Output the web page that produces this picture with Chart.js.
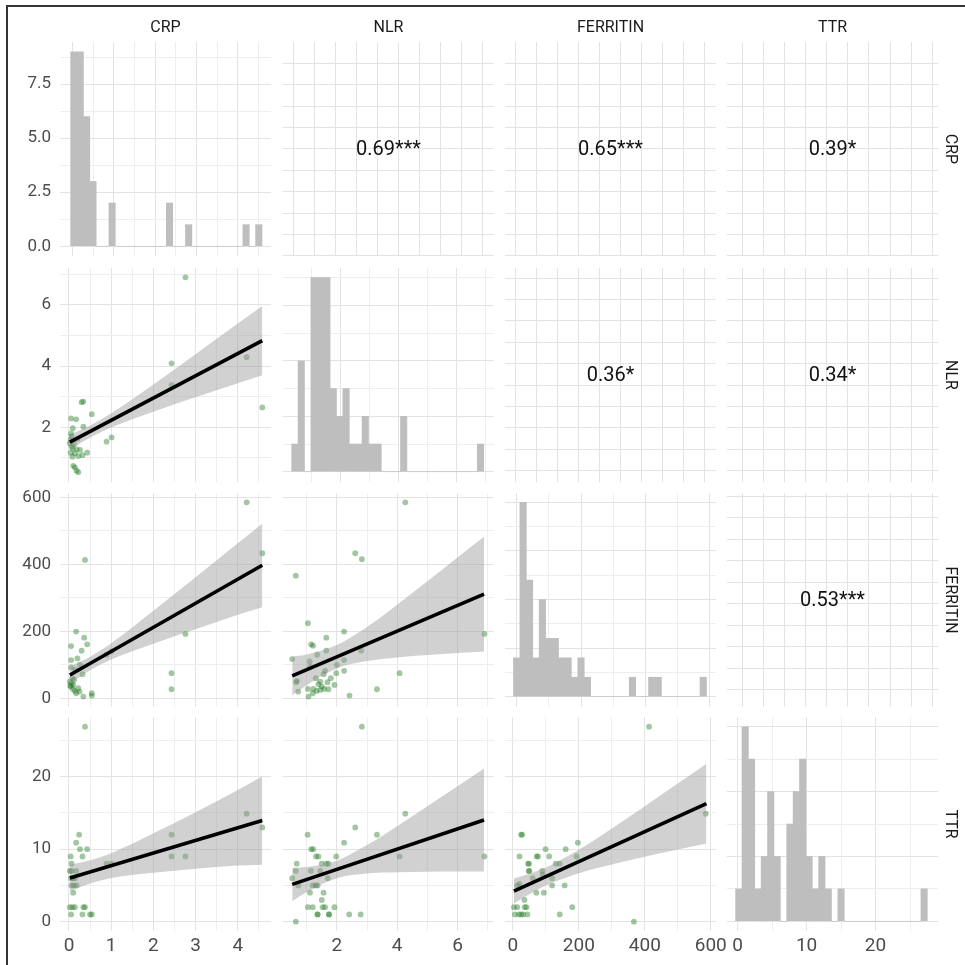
<!DOCTYPE html>
<html>
<head>
<meta charset="utf-8">
<script src="https://cdn.jsdelivr.net/npm/chart.js@4.4.1/dist/chart.umd.min.js"></script>
<style>
  html, body { margin: 0; padding: 0; background: #fff; }
  #page { position: relative; width: 965px; height: 965px; overflow: hidden; background: #fff; font-family: Roboto, 'Liberation Sans', sans-serif; }
  #page canvas { position: absolute; }
  .frame { position: absolute; left: 6px; top: 5px; width: 1200px; height: 1200px; border-left: 2px solid #333; border-top: 2px solid #333; }
  .strip { position: absolute; color: #1a1a1a; font-size: 16px; line-height: 1; white-space: nowrap; }
</style>
</head>
<body>
<div id="page"><div class="frame"></div></div>
<script>
// ---------- variables ----------
const variables = ['CRP', 'NLR', 'FERRITIN', 'TTR'];

// ---------- tick labels ----------
const crpTicks = [0, 1, 2, 3, 4];
const nlrTicks = [2, 4, 6];
const ferTicks = [0, 200, 400, 600];
const ttrTicks = [0, 10, 20];
const crpCountTicks = [0, 2.5, 5, 7.5];

// ---------- histograms (first bin edge, bin width, counts) ----------
const crpBinStart = -0.0485, crpBinWidth = 0.1546;
const crpCounts = [9,9,6,3,0,0,2,0,0,0,0,0,0,0,0,2,0,0,1,0,0,0,0,0,0,0,0,1,0,1];
const nlrBinStart = 0.312, nlrBinWidth = 0.2203;
const nlrCounts = [1,4,0,7,7,7,3,2,3,1,1,2,1,1,0,0,0,2,0,0,0,0,0,0,0,0,0,0,0,1];
const ferBinStart = -10, ferBinWidth = 20;
const ferCounts = [2,10,6,2,5,3,3,2,2,1,2,1,0,0,0,0,0,0,1,0,0,1,1,0,0,0,0,0,0,1];
const ttrBinStart = -0.3, ttrBinWidth = 0.927;
const ttrCounts = [1,6,5,1,2,4,2,0,3,4,5,2,1,2,1,0,1,0,0,0,0,0,0,0,0,0,0,0,0,1];

// ---------- scatter points ----------
const crpNlr_crp = [2.76,2.43,2.43,4.21,4.58,0.34,0.30,0.54,0.05,0.17,0.34,0.09,0.89,1.01,0.05,0.06,0.04,0.02,0.06,0.09,0.18,0.26,0.04,0.14,0.22,0.32,0.43,0.08,0.10,0.14,0.18,0.22,0.12,0.20];
const crpNlr_nlr = [6.90,4.09,3.38,4.29,2.65,2.84,2.82,2.43,2.29,2.26,2.02,1.97,1.53,1.67,1.80,1.70,1.59,1.48,1.37,1.31,1.28,1.26,1.17,1.15,1.06,1.09,1.17,1.04,0.74,0.69,0.58,0.53,1.45,1.62];

const crpFer_crp = [4.21,4.58,0.38,2.76,2.43,2.43,0.17,0.05,0.36,0.43,0.30,0.20,0.05,0.26,0.05,0.32,0.02,0.06,0.10,0.04,0.09,0.14,0.22,0.17,0.34,0.54,0.54,0.89,1.01,0.08,0.12,0.03,0.25,0.15];
const crpFer_fer = [585,433,413,192,75,27,199,156,181,161,142,119,114,100,92,72,50,45,40,35,28,22,30,15,5,15,8,130,140,60,55,38,20,85];

const crpTtr_crp = [0.38,4.21,4.58,2.43,2.43,2.76,0.24,0.17,0.26,0.43,0.32,0.04,0.06,0.02,0.06,0.17,0.89,1.01,0.05,0.10,0.06,0.12,0.18,0.10,0.02,0.08,0.14,0.34,0.38,0.05,0.32,0.50,0.54,0.14];
const crpTtr_ttr = [26.9,14.9,13.0,12.0,9.0,9.0,12.0,10.9,10.0,10.0,9.0,9.0,8.0,7.0,7.0,7.0,8.0,8.0,6.0,6.0,5.0,5.0,5.0,4.0,2.0,2.0,2.0,2.0,2.0,1.0,1.0,1.0,1.0,6.0];

const nlrFer_nlr = [4.27,2.61,2.83,0.64,1.04,2.24,1.65,1.15,1.21,1.65,2.81,0.52,2.24,1.11,1.61,2.24,1.56,1.98,4.08,0.65,1.45,1.39,1.69,1.92,1.04,1.22,1.33,1.45,1.58,1.72,0.72,1.20,1.06,2.42,3.33,6.89,1.30,1.50,1.80,0.68,1.10,1.35,2.00];
const nlrFer_fer = [585,433,415,366,224,199,181,161,157,142,142,117,114,94,82,82,72,75,75,48,50,42,48,40,28,28,22,25,28,27,20,15,5,8,27,192,60,35,60,52,110,130,100];

const nlrTtr_nlr = [2.83,4.27,2.61,3.33,1.03,2.24,1.15,1.22,1.31,1.39,1.98,4.08,6.89,0.67,1.50,1.65,1.72,0.64,1.14,1.45,0.52,0.72,1.20,1.36,1.11,1.56,1.04,1.20,1.53,1.61,1.92,1.36,1.74,2.41,2.79,0.64,1.36,1.74,1.50,1.30,1.70];
const nlrTtr_ttr = [26.9,14.9,13.0,12.0,12.0,10.9,10.0,10.0,9.0,9.0,9.0,9.0,9.0,8.0,8.0,8.0,8.0,7.0,7.0,7.0,6.0,5.0,5.0,5.0,4.0,4.0,2.0,2.0,2.0,2.0,2.0,1.0,1.0,1.0,1.0,0.0,1.0,1.0,3.0,5.0,6.0];

const ferTtr_fer = [413,585,25,28,197,99,160,20,72,76,193,46,49,142,50,48,89,119,13,20,71,94,119,157,35,3,13,36,41,180,6,18,31,44,142,367,60,110,130,25,90];
const ferTtr_ttr = [26.9,14.9,12,12,10.9,10,10,9,9,9,9,8,8,8,7,7,7,6,5,5.2,4,4,5,5,3,2,2,2,2,2,1,1,1,1,1,0,6,9,8,1,6.5];

// ---------- linear fits with 95% confidence band ----------
const crpGridX   = [0.02, 0.5, 1, 2, 3, 4, 4.58];
const crpNlr_fit = [1.515, 1.864, 2.228, 2.956, 3.684, 4.412, 4.834];
const crpNlr_lo  = [1.27, 1.66, 1.99, 2.51, 2.98, 3.44, 3.70];
const crpNlr_hi  = [1.76, 2.06, 2.46, 3.40, 4.39, 5.39, 5.96];
const crpFer_fit = [69.4, 104, 140, 212, 284, 356, 397];
const crpFer_lo  = [43.7, 84, 116, 163, 206, 249, 272];
const crpFer_hi  = [95.1, 124, 164, 261, 361, 463, 522];
const crpTtr_fit = [6.03, 6.87, 7.74, 9.47, 11.21, 12.95, 13.96];
const crpTtr_lo  = [4.21, 5.26, 6.03, 6.75, 7.31, 7.74, 7.86];
const crpTtr_hi  = [7.85, 8.48, 9.45, 12.19, 15.11, 18.16, 20.06];

const nlrGridX   = [0.52, 1, 2, 3, 4, 5, 6, 6.88];
const nlrFer_fit = [67, 85.4, 123.8, 162.2, 200.6, 239, 277.4, 311.2];
const nlrFer_lo  = [9, 39, 89, 111, 122, 129, 135, 140];
const nlrFer_hi  = [125, 131, 159, 213, 279, 349, 420, 482];
const nlrTtr_fit = [5.15, 5.82, 7.21, 8.61, 10.0, 11.4, 12.8, 14.02];
const nlrTtr_lo  = [2.85, 4.08, 6.0, 6.65, 6.82, 6.89, 6.93, 6.92];
const nlrTtr_hi  = [7.45, 7.56, 8.42, 10.57, 13.18, 15.91, 18.67, 21.12];

const ferGridX   = [3, 50, 100, 200, 300, 400, 500, 587];
const ferTtr_fit = [4.23, 5.20, 6.23, 8.30, 10.37, 12.44, 14.5, 16.3];
const ferTtr_lo  = [2.5, 3.78, 4.98, 6.69, 7.89, 8.95, 9.95, 10.8];
const ferTtr_hi  = [5.96, 6.62, 7.48, 9.91, 12.85, 15.93, 19.05, 21.8];

// ---------- correlations (upper triangle) ----------
const corrLabels = ['0.69***', '0.65***', '0.39*', '0.36*', '0.34*', '0.53***'];

// ---------- layout & style ----------
const FONT = "Roboto, 'Liberation Sans', sans-serif";
const MAJOR = '#e3e3e3', MINOR = '#eeeeee';
const colLeft = [60, 283, 505, 727], colW = 211;
const rowTop = [42, 268, 493, 717], rowH = 214;
const M = 50;          // canvas margin around each panel
const LEFT_BOX = 45;   // room for y tick labels
const BOTTOM_BOX = 34; // room for x tick labels

const varRange = [[-0.213, 4.787], [0.215, 7.21], [-24, 616], [-1.28, 28.23]];
const varYRange = [null, [0.212, 7.206], [-26, 612.8], [-1.28, 28.23]];
const diagXRange = [[-0.307, 4.808], [0.013, 7.276], [-36.3, 619.7], [-1.548, 29.06]];
const diagYRange = [[-0.45, 9.45], [-0.37, 7.35], [-0.53, 10.48], [-0.3, 6.3]];
const varMajor = [1, 2, 200, 10];
const countMajor = [2.5, 2, 2.5, 2];
// grid of the correlation panels: offset of first line and spacing (px)
const upperColGrid = [null, [10, 21.1], [10, 21.1], [15.3, 21.1]];
const upperRowGrid = [[21.3, 21.4], [10, 21.4], [3, 21.5], null];

const BAR = 'rgb(190,190,190)';
const POINT = 'rgba(30,120,30,0.42)';
const BAND = 'rgba(153,153,153,0.45)';

Chart.defaults.font.family = FONT;
Chart.defaults.animation = false;

const histData = [
  [crpBinStart, crpBinWidth, crpCounts],
  [nlrBinStart, nlrBinWidth, nlrCounts],
  [ferBinStart, ferBinWidth, ferCounts],
  [ttrBinStart, ttrBinWidth, ttrCounts]
];
const tickLabels = [crpTicks, nlrTicks, ferTicks, ttrTicks];

// scatter panels keyed by "row,col"
const scatterData = {
  '1,0': [crpNlr_crp, crpNlr_nlr, crpGridX, crpNlr_fit, crpNlr_lo, crpNlr_hi],
  '2,0': [crpFer_crp, crpFer_fer, crpGridX, crpFer_fit, crpFer_lo, crpFer_hi],
  '3,0': [crpTtr_crp, crpTtr_ttr, crpGridX, crpTtr_fit, crpTtr_lo, crpTtr_hi],
  '2,1': [nlrFer_nlr, nlrFer_fer, nlrGridX, nlrFer_fit, nlrFer_lo, nlrFer_hi],
  '3,1': [nlrTtr_nlr, nlrTtr_ttr, nlrGridX, nlrTtr_fit, nlrTtr_lo, nlrTtr_hi],
  '3,2': [ferTtr_fer, ferTtr_ttr, ferGridX, ferTtr_fit, ferTtr_lo, ferTtr_hi]
};
const upperOrder = ['0,1', '0,2', '0,3', '1,2', '1,3', '2,3'];

// ---------- helpers ----------
function gridValues(min, max, major) {
  const half = major / 2, out = [];
  for (let k = Math.ceil(min / half); k * half <= max; k++) out.push(+(k * half).toFixed(6));
  return out;
}
function majorTest(major) {
  return v => Math.abs(v / major - Math.round(v / major)) < 1e-6;
}
function makeAxis(min, max, values, isMajor, label, reverse) {
  return {
    type: 'linear', min, max, reverse: !!reverse, offset: false,
    afterBuildTicks(s) { s.ticks = values.map(v => ({ value: v })); },
    afterFit(s) {
      if (s.isHorizontal()) s.height = label ? BOTTOM_BOX : 0;
      else s.width = label ? LEFT_BOX : 0;
      s.paddingLeft = s.paddingRight = s.paddingTop = s.paddingBottom = 0;
    },
    grid: { drawTicks: false, lineWidth: 1, offset: false,
            color: c => (c.tick && isMajor(c.tick.value)) ? MAJOR : MINOR },
    border: { display: false },
    ticks: label ? {
      display: true, autoSkip: false, maxRotation: 0, minRotation: 0,
      padding: label.pad, color: '#4d4d4d', font: { size: label.size, family: FONT },
      callback: v => {
        const hit = label.values.find(t => Math.abs(t - v) < 1e-9);
        return hit === undefined ? '' : label.fmt(hit);
      }
    } : { display: false }
  };
}
const leftLabel = (values, fmt) => ({ values, fmt: fmt || (v => String(v)), size: 17, pad: 9 });
const bottomLabel = (values) => ({ values, fmt: v => String(v), size: 19, pad: 4 });

const page = document.getElementById('page');
function addCanvas(r, c) {
  const cv = document.createElement('canvas');
  cv.width = colW + 2 * M; cv.height = rowH + 2 * M;
  cv.style.left = (colLeft[c] - M) + 'px';
  cv.style.top = (rowTop[r] - M) + 'px';
  cv.style.width = cv.width + 'px'; cv.style.height = cv.height + 'px';
  page.appendChild(cv);
  return cv;
}
function baseOptions(scales, hasY, hasX, extraPlugins) {
  return {
    responsive: false, devicePixelRatio: 1, events: [],
    layout: { padding: { left: M - (hasY ? LEFT_BOX : 0), right: M, top: M, bottom: M - (hasX ? BOTTOM_BOX : 0) } },
    plugins: Object.assign({ legend: { display: false }, tooltip: { enabled: false } }, extraPlugins || {}),
    scales
  };
}

const corrPlugin = {
  id: 'corrText',
  afterDraw(chart, args, opts) {
    const { ctx, chartArea: a } = chart;
    ctx.save();
    ctx.font = '20px ' + FONT;
    ctx.fillStyle = '#111';
    ctx.textAlign = 'center';
    ctx.textBaseline = 'middle';
    ctx.fillText(opts.text, (a.left + a.right) / 2, (a.top + a.bottom) / 2 + 1);
    ctx.restore();
  }
};

// ---------- build the 4x4 matrix ----------
for (let r = 0; r < 4; r++) {
  for (let c = 0; c < 4; c++) {
    const cv = addCanvas(r, c);
    const yLabel = c === 0 ? (r === 0 ? leftLabel(crpCountTicks, v => v.toFixed(1)) : leftLabel(tickLabels[r])) : null;
    const xLabel = r === 3 ? bottomLabel(tickLabels[c]) : null;

    if (r === c) {
      // diagonal: histogram
      const [start, w, counts] = histData[c];
      const [x0, x1] = diagXRange[c];
      const [y0, y1] = diagYRange[c];
      new Chart(cv, {
        type: 'bar',
        data: { datasets: [{
          data: counts.map((n, i) => ({ x: start + (i + 0.5) * w, y: n })),
          backgroundColor: BAR, borderWidth: 0,
          barPercentage: 1, categoryPercentage: 1
        }] },
        options: baseOptions({
          x: makeAxis(x0, x1, gridValues(x0, x1, varMajor[c]), majorTest(varMajor[c]), xLabel),
          y: makeAxis(y0, y1, gridValues(y0, y1, countMajor[c]), majorTest(countMajor[c]), yLabel)
        }, !!yLabel, !!xLabel)
      });
    } else if (r > c) {
      // lower triangle: points, confidence band and fitted line
      const [xs, ys, gx, fit, lo, hi] = scatterData[r + ',' + c];
      const [x0, x1] = varRange[c];
      const [y0, y1] = varYRange[r];
      const toXY = (arr) => gx.map((x, i) => ({ x, y: arr[i] }));
      new Chart(cv, {
        type: 'scatter',
        data: { datasets: [
          { type: 'line', data: [{ x: gx[0], y: fit[0] }, { x: gx[gx.length - 1], y: fit[fit.length - 1] }],
            borderColor: '#000', borderWidth: 3.6, pointRadius: 0, fill: false, borderCapStyle: 'butt' },
          { type: 'line', data: toXY(hi), borderColor: 'transparent', borderWidth: 0, pointRadius: 0,
            cubicInterpolationMode: 'monotone', fill: '+1', backgroundColor: BAND },
          { type: 'line', data: toXY(lo), borderColor: 'transparent', borderWidth: 0, pointRadius: 0,
            cubicInterpolationMode: 'monotone', fill: false },
          { type: 'scatter', data: xs.map((x, i) => ({ x, y: ys[i] })),
            backgroundColor: POINT, borderWidth: 0, pointRadius: 2.9 }
        ] },
        options: baseOptions({
          x: makeAxis(x0, x1, gridValues(x0, x1, varMajor[c]), majorTest(varMajor[c]), xLabel),
          y: makeAxis(y0, y1, gridValues(y0, y1, varMajor[r]), majorTest(varMajor[r]), yLabel)
        }, !!yLabel, !!xLabel)
      });
    } else {
      // upper triangle: correlation coefficient
      const text = corrLabels[upperOrder.indexOf(r + ',' + c)];
      const [ox, sx] = upperColGrid[c];
      const [oy, sy] = upperRowGrid[r];
      const xv = [], yv = [];
      for (let p = ox; p < colW; p += sx) xv.push(p);
      for (let p = oy; p <= rowH; p += sy) yv.push(p);
      new Chart(cv, {
        type: 'scatter',
        data: { datasets: [] },
        plugins: [corrPlugin],
        options: baseOptions({
          x: makeAxis(0, colW, xv, () => true, null),
          y: makeAxis(0, rowH, yv, () => true, null, true)
        }, false, false, { corrText: { text } })
      });
    }
  }
}

// ---------- strip labels ----------
variables.forEach((name, i) => {
  const top = document.createElement('div');
  top.className = 'strip';
  top.textContent = name;
  top.style.left = (colLeft[i] + colW / 2) + 'px';
  top.style.top = '27px';
  top.style.transform = 'translate(-50%, -50%)';
  page.appendChild(top);

  const side = document.createElement('div');
  side.className = 'strip';
  side.textContent = name;
  side.style.left = '951px';
  side.style.top = (rowTop[i] + rowH / 2) + 'px';
  side.style.transform = 'translate(-50%, -50%) rotate(90deg)';
  page.appendChild(side);
});
</script>
</body>
</html>
